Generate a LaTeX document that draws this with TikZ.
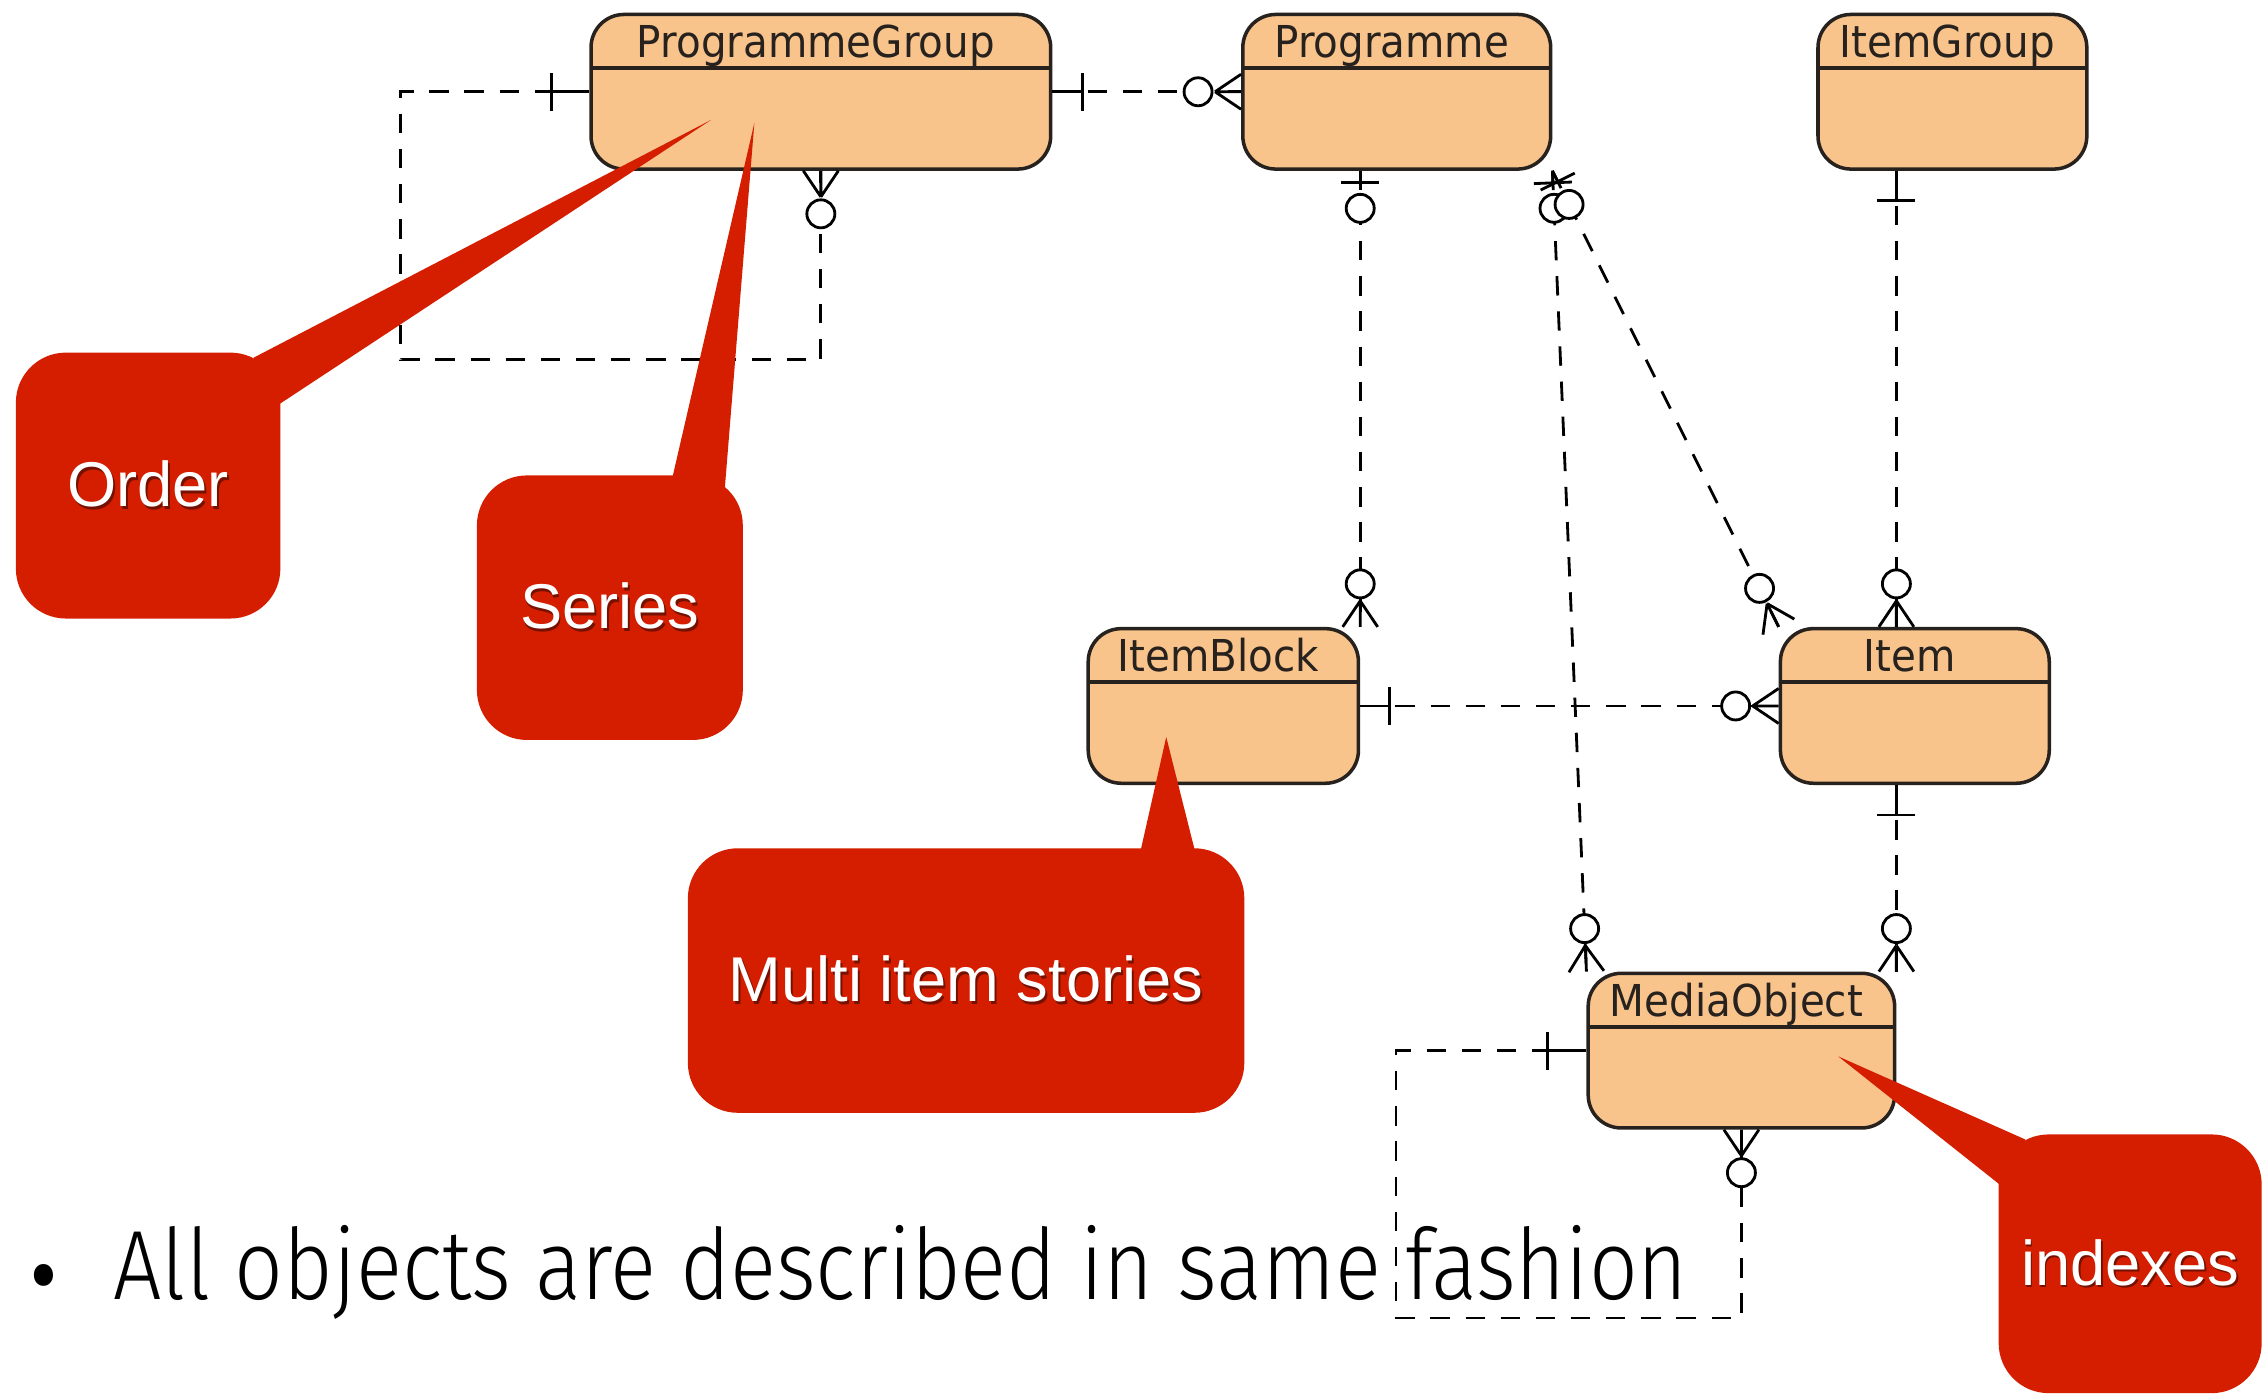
\documentclass[tikz,border=0pt]{standalone}
\usepackage{fontspec}
\usetikzlibrary{calc}
\newfontfamily\titlefont{DejaVu Sans}[FakeStretch=0.92]
\newfontfamily\notefont{Liberation Sans}
\IfFontExistsTF{Fira Sans Light}
  {\newfontfamily\slidefont{Fira Sans Light}[FakeStretch=0.87]}
  {\newfontfamily\slidefont{Fira Sans}[FakeStretch=0.87]}
\definecolor{entityfill}{RGB}{248,196,140}
\definecolor{entityline}{RGB}{40,34,30}
\definecolor{notered}{RGB}{213,30,0}
\tikzset{
  entity/.style={draw=entityline, line width=1pt, fill=entityfill,
    rounded corners=0.33cm, minimum height=1.546cm, inner sep=0pt,
    path picture={\draw[entityline,line width=1pt]
      ([yshift=-0.535cm]path picture bounding box.north west) --
      ([yshift=-0.535cm]path picture bounding box.north east);}},
  entitytitle/.style={font=\titlefont\fontsize{12.5}{14}\selectfont, text=entityline,
    anchor=base, yshift=-0.45cm, xshift=-0.05cm, inner sep=0pt},
  relation/.style={line width=0.8pt, dash pattern=on 5.5pt off 4.5pt},
  endmark/.style={line width=0.8pt, solid},
  notebox/.style={fill=notered, rounded corners=0.5cm, text=white, inner sep=0pt,
    font=\notefont\fontsize{18}{22}\selectfont},
}
% crow's foot and circle: zero or many
\newcommand{\zeromany}[2]{%
  \draw[endmark] ($(#1)!0.26cm!(#2)$) -- (#1)
    ($(#1)!0.26cm!(#2)$) -- ($(#1)!0.175cm!90:(#2)$)
    ($(#1)!0.26cm!(#2)$) -- ($(#1)!0.175cm!-90:(#2)$);
  \draw[endmark,fill=white] ($(#1)!0.43cm!(#2)$) circle (0.14cm);}
% bar: exactly one
\newcommand{\onebar}[3]{%
  \coordinate (barmid) at ($(#1)!#3!(#2)$);
  \draw[endmark] (#1) -- (barmid)
    ($(barmid)!0.19cm!90:(#2)$) -- ($(barmid)!0.19cm!-90:(#2)$);}
% bar and circle: zero or one
\newcommand{\zeroone}[2]{%
  \onebar{#1}{#2}{0.12cm}
  \draw[endmark,fill=white] ($(#1)!0.375cm!(#2)$) circle (0.14cm);}
% white text with a soft dark shadow
\newcommand{\shadowed}[1]{%
  \makebox[0pt][l]{\hspace{0.5pt}\raisebox{-0.8pt}{\textcolor{notered!55!black}{#1}}}#1}
\begin{document}
\begin{tikzpicture}[x=0.014452cm, y=-0.014452cm]
  \useasboundingbox (0,0) rectangle (1568,965);
  % entities
  \node[entity, minimum width=4.596cm, label={[entitytitle]north:ProgrammeGroup}] (pgroup) at (568,63.5) {};
  \node[entity, minimum width=3.078cm, label={[entitytitle]north:Programme}] (prog) at (966.5,63.5) {};
  \node[entity, minimum width=2.688cm, label={[entitytitle]north:ItemGroup}] (igroup) at (1351,63.5) {};
  \node[entity, minimum width=2.702cm, label={[entitytitle]north:ItemBlock}] (iblock) at (846.5,488.5) {};
  \node[entity, minimum width=2.688cm, label={[entitytitle]north:Item}] (item) at (1325,488.5) {};
  \node[entity, minimum width=3.064cm, label={[entitytitle]north:MediaObject}] (media) at (1205,727) {};

  % corners of the relations
  \coordinate (pgloop) at (277,249);
  \coordinate (moloop) at (966,912);
  \coordinate (pgL) at (pgroup.west -| pgloop);
  \coordinate (pgB) at (pgroup.south |- pgloop);
  \coordinate (moL) at (media.west -| moloop);
  \coordinate (moB) at (media.south |- moloop);
  \coordinate (progA) at (prog.south -| iblock.north east);
  \coordinate (igA) at (igroup.south -| media.north east);
  \coordinate (igB) at (item.north -| media.north east);
  \coordinate (itemA) at (item.south -| media.north east);

  \draw[relation] (pgroup.west) -| (pgloop) -| (pgroup.south);
  \draw[relation] (pgroup.east) -- (prog.west);
  \draw[relation] (progA) -- (iblock.north east);
  \draw[relation] (prog.south east) -- (media.north west);
  \draw[relation] (prog.south east) -- (item.north west);
  \draw[relation] (igA) -- (igB);
  \draw[relation] (iblock.east) -- (item.west);
  \draw[relation] (itemA) -- (media.north east);
  \draw[relation] (media.west) -| (moloop) -| (media.south);

  % end marks
  \onebar{pgroup.west}{pgL}{0.376cm}
  \zeromany{pgroup.south}{pgB}
  \onebar{pgroup.east}{prog.west}{0.3cm}
  \zeromany{prog.west}{pgroup.east}
  \zeroone{progA}{iblock.north east}
  \zeromany{iblock.north east}{progA}
  \zeroone{prog.south east}{media.north west}
  \zeromany{media.north west}{prog.south east}
  \zeroone{prog.south east}{item.north west}
  \zeromany{item.north west}{prog.south east}
  \onebar{igA}{igB}{0.3cm}
  \zeromany{igB}{igA}
  \onebar{iblock.east}{item.west}{0.29cm}
  \zeromany{item.west}{iblock.east}
  \onebar{itemA}{media.north east}{0.3cm}
  \zeromany{media.north east}{itemA}
  \onebar{media.west}{moL}{0.39cm}
  \zeromany{media.south}{moB}

  % callouts
  \node[notebox, minimum width=2.645cm, minimum height=2.659cm] (order) at (102.5,336) {\shadowed{Order}};
  \coordinate (ordertip) at (492,83);
  \fill[notered] ($(order.north east)+(-19,4)$) -- (ordertip) -- ($(order.north east)+(-1,36)$) -- cycle;
  \node[notebox, minimum width=2.659cm, minimum height=2.645cm] (series) at (422,420.5) {\shadowed{Series}};
  \coordinate (seriestip) at (522,85);
  \fill[notered] ($(series.north east)+(-49,1)$) -- (seriestip) -- ($(series.north east)+(-13,10)$) -- cycle;
  \node[notebox, minimum width=5.564cm, minimum height=2.645cm] (multi) at (668.5,678.5) {\shadowed{Multi item stories}};
  \coordinate (multitip) at (807,510);
  \fill[notered] ($(multi.north east)+(-72,1)$) -- (multitip) -- ($(multi.north east)+(-35,1)$) -- cycle;
  \node[notebox, minimum width=2.63cm, minimum height=2.587cm] (indexes) at (1474,874.5) {\shadowed{indexes}};
  \coordinate (indexestip) at (1272,731);
  \fill[notered] ($(indexes.north west)+(19,4)$) -- (indexestip) -- ($(indexes.north west)+(1,35)$) -- cycle;

  % slide text
  \node[anchor=base west, inner sep=0pt, font=\slidefont\fontsize{28}{34}\selectfont] (bullet) at (20,899)
    {\makebox[0.84cm][l]{\hspace{-0.04cm}\raisebox{-0.27cm}{\fontsize{42}{42}\selectfont\textbullet}}All objects are described in same fashion};
\end{tikzpicture}
\end{document}
